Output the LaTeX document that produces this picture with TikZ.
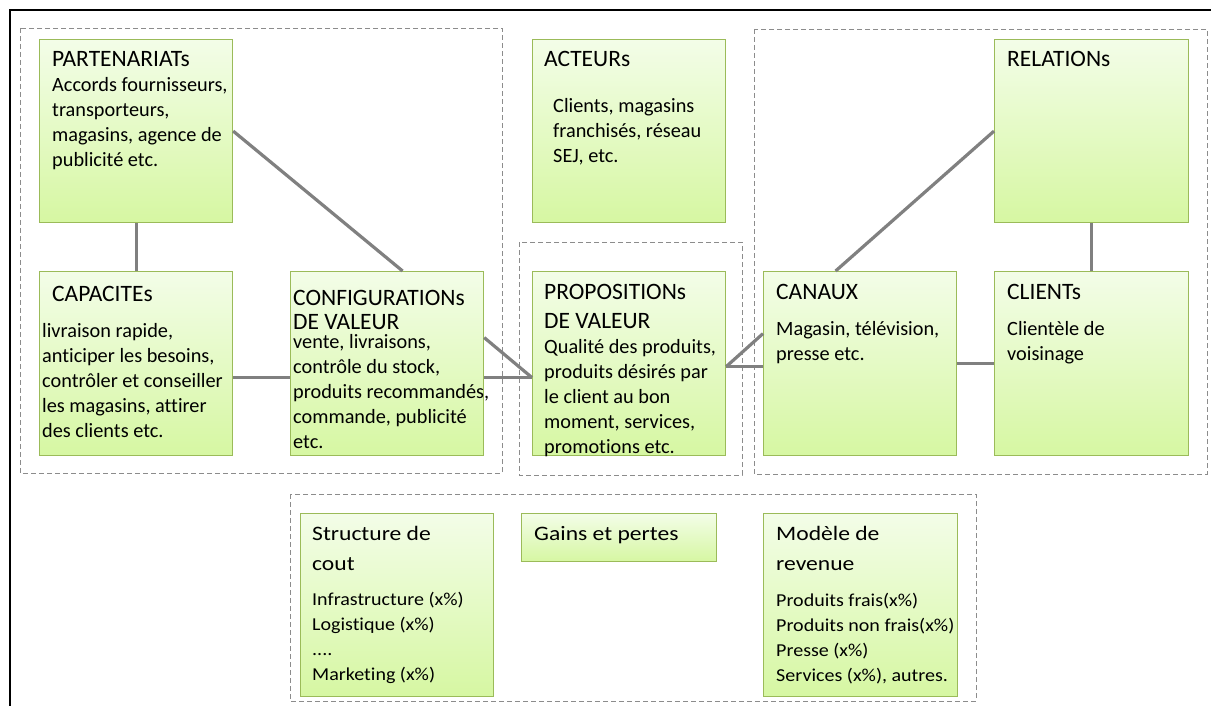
\documentclass[tikz,border=0pt]{standalone}
\usepackage{fontspec}
\setmainfont{Carlito}[Ligatures={NoCommon}]
\newfontfamily\widefont{Carlito}[FakeStretch=1.15, Ligatures={NoCommon}]
\newfontfamily\widerfont{Carlito}[FakeStretch=1.1, Ligatures={NoCommon}]
\definecolor{boxborder}{HTML}{9BBB59}
\definecolor{boxtop}{HTML}{F3FDE8}
\definecolor{boxbot}{HTML}{D6F7A2}
\definecolor{linkgray}{HTML}{808080}
\definecolor{dashgray}{HTML}{8C8C8C}
\newcommand{\mylines}[1]{\begin{tabular}[t]{@{}l@{}}#1\end{tabular}}
\tikzset{
  gbox/.style={draw=boxborder, line width=1.2pt, top color=boxtop, bottom color=boxbot, inner sep=0pt, anchor=north west},
  ttl/.style={anchor=base west, inner sep=0pt, font=\fontsize{23.5}{29}\selectfont},
  bdy/.style={anchor=base west, inner sep=0pt, font=\fontsize{20.3}{25}\selectfont},
  bttl/.style={anchor=base west, inner sep=0pt, font=\widefont\fontsize{20.5}{30}\selectfont},
  bbdy/.style={anchor=base west, inner sep=0pt, font=\widerfont\fontsize{18.2}{25}\selectfont},
  link/.style={draw=linkgray, line width=3.2pt},
  grp/.style={draw=dashgray, line width=0.9pt, dash pattern=on 5pt off 3pt},
}
\begin{document}
\begin{tikzpicture}[x=1pt, y=-1pt]
\useasboundingbox (0,0) rectangle (1211,706);
% outer frame
\draw[black, line width=1.5pt] (1215,10) -- (10,10) -- (10,710);
% dashed groups
\draw[grp] (20,28) rectangle (502,473);
\draw[grp] (519,242) rectangle (742,475);
\draw[grp] (754,29) rectangle (1207,474);
\draw[grp] (290,494) rectangle (976,701);
% boxes
\node[gbox, minimum width=193, minimum height=183] (P) at (39,39) {};
\node[gbox, minimum width=193, minimum height=183] (A) at (532,39) {};
\node[gbox, minimum width=194, minimum height=183] (R) at (994,39) {};
\node[gbox, minimum width=193, minimum height=184] (CAP) at (39,271) {};
\node[gbox, minimum width=193, minimum height=184] (CONF) at (290,271) {};
\node[gbox, minimum width=193, minimum height=184] (PROP) at (532,271) {};
\node[gbox, minimum width=193, minimum height=184] (CAN) at (763,271) {};
\node[gbox, minimum width=194, minimum height=184] (CLI) at (994,271) {};
\node[gbox, minimum width=193, minimum height=183] (S) at (300,513) {};
\node[gbox, minimum width=195, minimum height=48] (G) at (521,513) {};
\node[gbox, minimum width=194, minimum height=183] (M) at (763,513) {};
% connectors
\draw[link] (P.south) -- (CAP.north);
\draw[link] (P.east) -- ([xshift=15.5pt]CONF.north);
\draw[link] ([yshift=-14pt]CAP.east) -- ([yshift=-14pt]CONF.west);
\draw[link] ([yshift=26pt]CONF.east) -- ([yshift=-14pt]PROP.west);
\draw[link] ([yshift=-14pt]CONF.east) -- ([yshift=-14pt]PROP.west);
\draw[link] ([yshift=-3pt]PROP.east) -- ([yshift=-3pt]CAN.west);
\draw[link] ([yshift=-3pt]PROP.east) -- ([yshift=30pt]CAN.west);
\draw[link] ([xshift=-24.5pt]CAN.north) -- (R.west);
\draw[link] (R.south) -- (CLI.north);
\draw[link] (CAN.east) -- (CLI.west);
% texts
\node[ttl] (Pt) at (52,67) {PARTENARIATs};
\node[bdy] (Pb) at (52,92) {\mylines{Accords fournisseurs,\\transporteurs,\\magasins, agence de\\publicité etc.}};
\node[ttl] (At) at (544,67) {ACTEURs};
\node[bdy] (Ab) at (553,113) {\mylines{Clients, magasins\\franchisés, réseau\\SEJ, etc.}};
\node[ttl] (Rt) at (1007,67) {RELATIONs};
\node[ttl] (CAPt) at (52,301) {CAPACITEs};
\node[bdy] (CAPb) at (42,337) {\mylines{livraison rapide,\\anticiper les besoins,\\contrôler et conseiller\\les magasins, attirer\\des clients etc.}};
\node[ttl] (CONFt) at (293,305) {CONFIGURATIONs};
\node[ttl] (CONFt2) at (293,329) {DE VALEUR};
\node[bdy] (CONFb) at (293,348) {\mylines{vente, livraisons,\\contrôle du stock,\\produits recommandés,\\commande, publicité\\etc.}};
\node[ttl] (PROPt) at (544,299) {\mylines{PROPOSITIONs\\DE VALEUR}};
\node[bdy] (PROPb) at (544,353) {\mylines{Qualité des produits,\\produits désirés par\\le client au bon\\moment, services,\\promotions etc.}};
\node[ttl] (CANt) at (776,299) {CANAUX};
\node[bdy] (CANb) at (776,335) {\mylines{Magasin, télévision,\\presse etc.}};
\node[ttl] (CLIt) at (1007,299) {CLIENTs};
\node[bdy] (CLIb) at (1007,335) {\mylines{Clientèle de\\voisinage}};
\node[bttl] (St) at (312,540) {\mylines{Structure de\\cout}};
\node[bbdy] (Sb) at (312,605) {\mylines{Infrastructure (x\%)\\Logistique (x\%)\\....\\Marketing (x\%)}};
\node[bttl] (Gt) at (534,540) {Gains et pertes};
\node[bttl] (Mt) at (776,540) {\mylines{Modèle de\\revenue}};
\node[bbdy] (Mb) at (776,606) {\mylines{Produits frais(x\%)\\Produits non frais(x\%)\\Presse (x\%)\\Services (x\%), autres.}};
\end{tikzpicture}
\end{document}
